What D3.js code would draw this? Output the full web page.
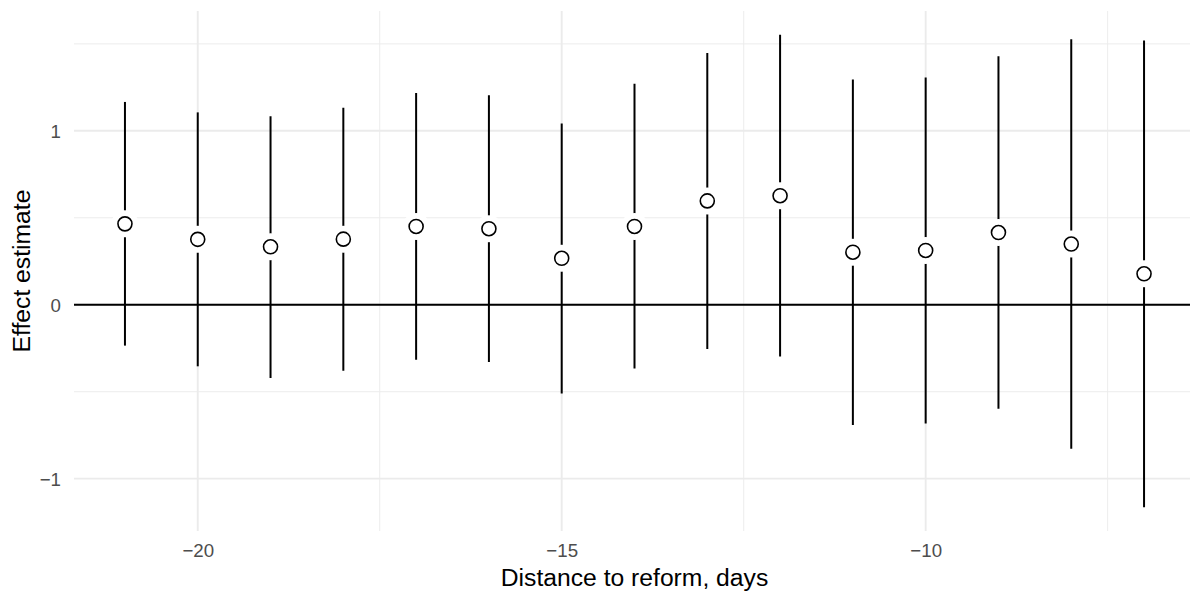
<!DOCTYPE html>
<html>
<head>
<meta charset="utf-8">
<script src="https://cdn.jsdelivr.net/npm/d3@7"></script>
<style>
  html, body { margin: 0; padding: 0; background: #fff; }
  svg { display: block; font-family: "Liberation Sans", Arial, Helvetica, sans-serif; }
</style>
</head>
<body>
<div id="mount"></div>
<script>
var days = [-21, -20, -19, -18, -17, -16, -15, -14, -13, -12, -11, -10, -9, -8, -7];
var estimate = [0.465, 0.376, 0.333, 0.377, 0.450, 0.437, 0.267, 0.450, 0.597, 0.627, 0.302, 0.312, 0.415, 0.349, 0.178];
var lower = [-0.235, -0.354, -0.421, -0.379, -0.316, -0.329, -0.511, -0.367, -0.254, -0.298, -0.692, -0.683, -0.598, -0.828, -1.165];
var upper = [1.166, 1.106, 1.084, 1.132, 1.218, 1.205, 1.042, 1.270, 1.448, 1.553, 1.295, 1.306, 1.429, 1.526, 1.520];

var xMajor = [-20, -15, -10];
var xMinor = [-22.5, -17.5, -12.5, -7.5];
var yMajor = [-1, 0, 1];
var yMinor = [-0.5, 0.5, 1.5];

var WIDTH = 1190;
var HEIGHT = 592;
var panel = { left: 74, right: 1195, top: 11, bottom: 531 };

function expand (ext) {
  var pad = (ext[1] - ext[0]) * 0.05;
  return [ext[0] - pad, ext[1] + pad];
}

var points = days.map(function (d, i) {
  return { day: d, est: estimate[i], lo: lower[i], hi: upper[i] };
});

var x = d3.scaleLinear()
  .domain(expand(d3.extent(days)))
  .range([panel.left, panel.right]);

var y = d3.scaleLinear()
  .domain(expand([d3.min(lower), d3.max(upper)]))
  .range([panel.bottom, panel.top]);

var $svg = d3.select('#mount')
  .append('svg')
  .attr('width', WIDTH)
  .attr('height', HEIGHT);

var $panel = $svg.append('g');

function inX (v) { return x(v) >= panel.left && x(v) <= panel.right; }
function inY (v) { return y(v) >= panel.top && y(v) <= panel.bottom; }

// minor grid
$panel.selectAll('line.xminor')
  .data(xMinor.filter(inX))
  .enter().append('line')
  .attr('x1', x).attr('x2', x)
  .attr('y1', panel.top).attr('y2', panel.bottom)
  .attr('stroke', '#ebebeb').attr('stroke-width', 0.95);

$panel.selectAll('line.yminor')
  .data(yMinor.filter(inY))
  .enter().append('line')
  .attr('y1', y).attr('y2', y)
  .attr('x1', panel.left).attr('x2', panel.right)
  .attr('stroke', '#ebebeb').attr('stroke-width', 0.95);

// major grid
$panel.selectAll('line.xmajor')
  .data(xMajor)
  .enter().append('line')
  .attr('x1', x).attr('x2', x)
  .attr('y1', panel.top).attr('y2', panel.bottom)
  .attr('stroke', '#ebebeb').attr('stroke-width', 1.9);

$panel.selectAll('line.ymajor')
  .data(yMajor)
  .enter().append('line')
  .attr('y1', y).attr('y2', y)
  .attr('x1', panel.left).attr('x2', panel.right)
  .attr('stroke', '#ebebeb').attr('stroke-width', 1.9);

// zero reference line
$panel.append('line')
  .attr('x1', panel.left).attr('x2', panel.right)
  .attr('y1', y(0)).attr('y2', y(0))
  .attr('stroke', '#000').attr('stroke-width', 2);

// intervals
$panel.selectAll('line.ci')
  .data(points)
  .enter().append('line')
  .attr('x1', function (d) { return x(d.day); })
  .attr('x2', function (d) { return x(d.day); })
  .attr('y1', function (d) { return y(d.lo); })
  .attr('y2', function (d) { return y(d.hi); })
  .attr('stroke', '#000').attr('stroke-width', 2);

// white halo behind each point
$panel.selectAll('circle.halo')
  .data(points)
  .enter().append('circle')
  .attr('cx', function (d) { return x(d.day); })
  .attr('cy', function (d) { return y(d.est); })
  .attr('r', 13.5)
  .attr('fill', '#fff');

$panel.selectAll('circle.pt')
  .data(points)
  .enter().append('circle')
  .attr('cx', function (d) { return x(d.day); })
  .attr('cy', function (d) { return y(d.est); })
  .attr('r', 7)
  .attr('fill', '#fff')
  .attr('stroke', '#000')
  .attr('stroke-width', 1.6);

// axes (labels only, like theme_minimal)
var xAxis = d3.axisBottom(x)
  .tickValues(xMajor)
  .tickSize(0)
  .tickPadding(0)
  .tickFormat(function (d) { return d3.format('d')(d).replace('-', '\u2212'); });

var yAxis = d3.axisLeft(y)
  .tickValues(yMajor)
  .tickSize(0)
  .tickPadding(0)
  .tickFormat(function (d) { return d3.format('d')(d).replace('-', '\u2212'); });

var $xAxis = $svg.append('g')
  .attr('transform', 'translate(0,' + panel.bottom + ')')
  .call(xAxis);

var $yAxis = $svg.append('g')
  .attr('transform', 'translate(' + (panel.left - 13) + ',0)')
  .call(yAxis);

[$xAxis, $yAxis].forEach(function ($a) {
  $a.select('.domain').remove();
  $a.selectAll('text')
    .attr('fill', '#4d4d4d')
    .style('font-size', '18.7px')
    .style('font-family', '"Liberation Sans", Arial, sans-serif');
});

$xAxis.selectAll('text')
  .attr('dy', null)
  .attr('y', 25.7);

$yAxis.selectAll('text')
  .attr('dy', '0.35em');

// titles
$svg.append('text')
  .attr('x', (panel.left + panel.right) / 2)
  .attr('y', 586)
  .attr('text-anchor', 'middle')
  .style('font-size', '24.7px')
  .attr('fill', '#000')
  .text('Distance to reform, days');

$svg.append('text')
  .attr('transform', 'translate(30,' + ((panel.top + panel.bottom) / 2) + ') rotate(-90)')
  .attr('text-anchor', 'middle')
  .style('font-size', '24.7px')
  .attr('fill', '#000')
  .text('Effect estimate');
</script>
</body>
</html>
